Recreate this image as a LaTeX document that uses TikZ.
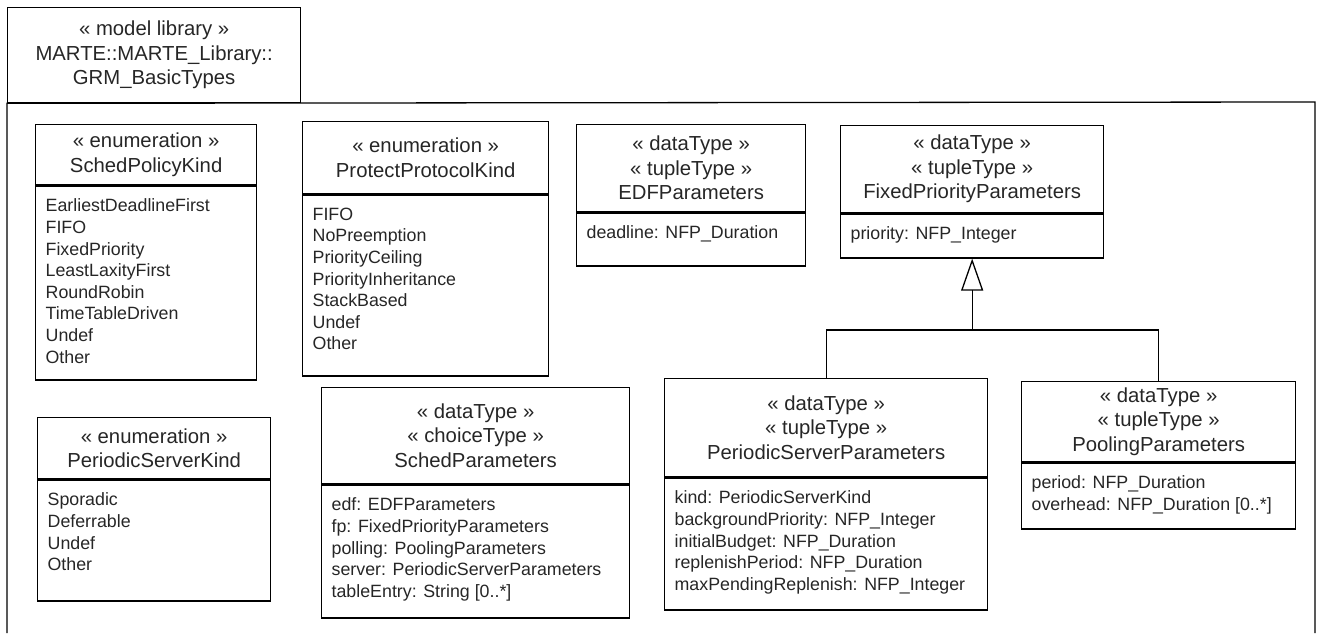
\documentclass[tikz,border=0pt]{standalone}
\usepackage{fontspec}
\setmainfont{Liberation Sans}
\usetikzlibrary{arrows.meta}
\begin{document}
\begin{tikzpicture}[x=1pt,y=-1pt,line width=1.3pt,
  hdr/.style={draw,anchor=north west,align=center,inner sep=0pt,text=black!85,font=\fontsize{20.3}{24.5}\selectfont},
  bdy/.style={draw,anchor=north west,inner sep=0pt},
  attr/.style={anchor=north west,align=left,inner sep=0pt,text=black!85,font=\fontsize{17.8}{21.6}\selectfont}]
\useasboundingbox (0,0) rectangle (1319,633);
\node[hdr,minimum width=293pt,minimum height=95pt] (pkgtab) at (7,7) {« model library »\\MARTE::MARTE\_Library::\\GRM\_BasicTypes};
\draw (pkgtab.south west |- 0,633) -- (pkgtab.south west) -- (1315,102) -- (1315,633);
\node[hdr,minimum width=221pt,minimum height=60pt] (spkh) at (35,124) {« enumeration »\\SchedPolicyKind};
\node[bdy,minimum width=221pt,minimum height=194pt] (spkb) at (spkh.south west) {};
\node[attr] (spkt) at ([shift={(10,13)}]spkb.north west) {EarliestDeadlineFirst\\FIFO\\FixedPriority\\LeastLaxityFirst\\RoundRobin\\TimeTableDriven\\Undef\\Other};
\node[hdr,minimum width=246pt,minimum height=72pt] (ppkh) at (302,121) {« enumeration »\\ProtectProtocolKind};
\node[bdy,minimum width=246pt,minimum height=181pt] (ppkb) at (ppkh.south west) {};
\node[attr] (ppkt) at ([shift={(10,13)}]ppkb.north west) {FIFO\\NoPreemption\\PriorityCeiling\\PriorityInheritance\\StackBased\\Undef\\Other};
\node[hdr,minimum width=229pt,minimum height=87pt] (edfh) at (576,124) {« dataType »\\« tupleType »\\EDFParameters};
\node[bdy,minimum width=229pt,minimum height=53pt] (edfb) at (edfh.south west) {};
\node[attr] (edft) at ([shift={(10,13)}]edfb.north west) {deadline: NFP\_Duration};
\node[hdr,minimum width=263pt,minimum height=87pt] (fpph) at (840,125) {« dataType »\\« tupleType »\\FixedPriorityParameters};
\node[bdy,minimum width=263pt,minimum height=44pt] (fppb) at (fpph.south west) {};
\node[attr] (fppt) at ([shift={(10,13)}]fppb.north west) {priority: NFP\_Integer};
\node[hdr,minimum width=233pt,minimum height=61pt] (pskh) at (37,417) {« enumeration »\\PeriodicServerKind};
\node[bdy,minimum width=233pt,minimum height=121pt] (pskb) at (pskh.south west) {};
\node[attr] (pskt) at ([shift={(10,13)}]pskb.north west) {Sporadic\\Deferrable\\Undef\\Other};
\node[hdr,minimum width=308pt,minimum height=96pt] (sph) at (321,387) {« dataType »\\« choiceType »\\SchedParameters};
\node[bdy,minimum width=308pt,minimum height=133pt] (spb) at (sph.south west) {};
\node[attr] (spt) at ([shift={(10,13)}]spb.north west) {edf: EDFParameters\\fp: FixedPriorityParameters\\polling: PoolingParameters\\server: PeriodicServerParameters\\tableEntry: String [0..*]};
\node[hdr,minimum width=323pt,minimum height=98pt] (psph) at (664,378) {« dataType »\\« tupleType »\\PeriodicServerParameters};
\node[bdy,minimum width=323pt,minimum height=132pt] (pspb) at (psph.south west) {};
\node[attr] (pspt) at ([shift={(10,13)}]pspb.north west) {kind: PeriodicServerKind\\backgroundPriority: NFP\_Integer\\initialBudget: NFP\_Duration\\replenishPeriod: NFP\_Duration\\maxPendingReplenish: NFP\_Integer};
\node[hdr,minimum width=274pt,minimum height=80pt] (poolh) at (1021,381) {« dataType »\\« tupleType »\\PoolingParameters};
\node[bdy,minimum width=274pt,minimum height=66pt] (poolb) at (poolh.south west) {};
\node[attr] (poolt) at ([shift={(10,13)}]poolb.north west) {period: NFP\_Duration\\overhead: NFP\_Duration [0..*]};
\coordinate (gen) at (fppb.south |- 0,330);
\draw (psph.north) |- (gen) -| (poolh.north);
\draw[-{Triangle[open,length=32pt,width=22pt]}] (gen) -- (fppb.south);
\end{tikzpicture}
\end{document}
